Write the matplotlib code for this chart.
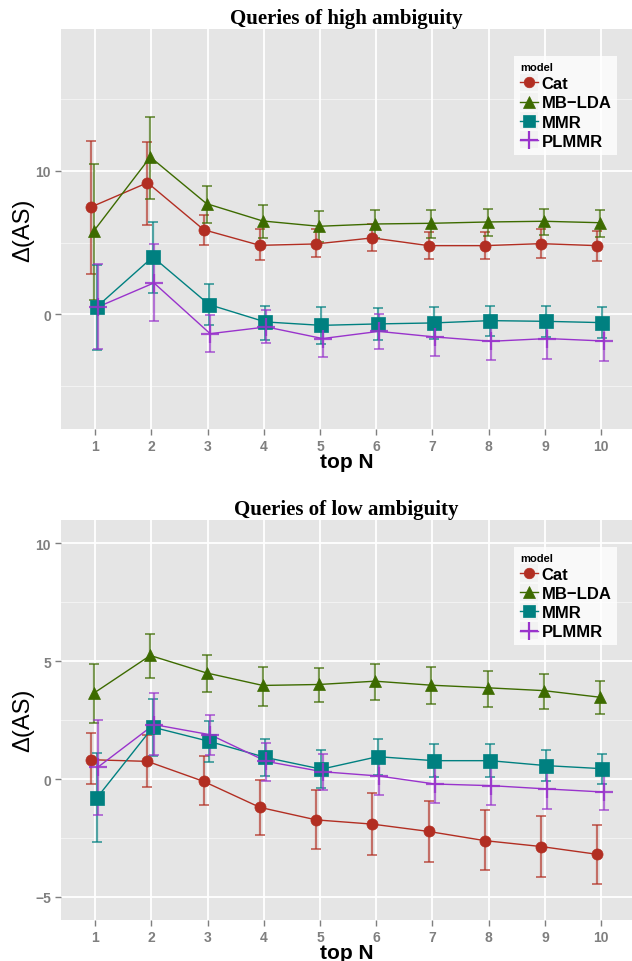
import numpy as np
import matplotlib.pyplot as plt
from matplotlib.legend_handler import HandlerLine2D
from matplotlib.patches import Rectangle

top_n = np.arange(1, 11)
models = ['Cat', 'MB\u2212LDA', 'MMR', 'PLMMR']
colors = ['#B22E22', '#3D6B00', '#008080', '#9933CC']
markers = ['o', '^', 's', '+']

# high ambiguity: value, upper, lower
high_cat = [7.49, 9.18, 5.90, 4.81, 4.91, 5.33, 4.79, 4.79, 4.93, 4.79]
high_cat_hi = [12.1, 12.0, 6.95, 5.93, 5.95, 6.32, 5.74, 5.74, 5.98, 5.81]
high_cat_lo = [2.84, 6.25, 4.81, 3.77, 4.00, 4.42, 3.84, 3.84, 3.93, 3.74]
high_lda = [5.84, 10.97, 7.72, 6.51, 6.14, 6.30, 6.35, 6.44, 6.49, 6.39]
high_lda_hi = [10.5, 13.76, 8.93, 7.60, 7.18, 7.30, 7.30, 7.35, 7.35, 7.30]
high_lda_lo = [0.98, 8.07, 6.39, 5.33, 5.05, 5.35, 5.33, 5.47, 5.50, 5.40]
high_mmr = [0.51, 4.00, 0.68, -0.53, -0.77, -0.67, -0.60, -0.44, -0.49, -0.58]
high_mmr_hi = [3.47, 6.44, 2.09, 0.56, 0.51, 0.45, 0.51, 0.58, 0.56, 0.51]
high_mmr_lo = [-2.51, 1.51, -0.72, -1.76, -2.04, -1.76, -1.69, -1.51, -1.55, -1.64]
high_pl = [0.51, 2.19, -1.35, -0.88, -1.69, -1.19, -1.58, -1.88, -1.69, -1.86]
high_pl_hi = [3.49, 4.93, -0.07, 0.28, -0.46, 0.00, -0.44, -0.72, -0.53, -0.67]
high_pl_lo = [-2.39, -0.49, -2.62, -2.00, -2.97, -2.39, -2.90, -3.20, -3.09, -3.25]

# low ambiguity
low_cat = [0.82, 0.75, -0.10, -1.20, -1.73, -1.91, -2.22, -2.61, -2.86, -3.19]
low_cat_hi = [1.95, 1.86, 0.96, -0.03, -0.45, -0.59, -0.92, -1.30, -1.56, -1.94]
low_cat_lo = [-0.21, -0.35, -1.09, -2.37, -2.97, -3.22, -3.50, -3.85, -4.14, -4.46]
low_lda = [3.65, 5.24, 4.50, 3.97, 4.01, 4.15, 3.98, 3.87, 3.75, 3.47]
low_lda_hi = [4.86, 6.13, 5.25, 4.75, 4.72, 4.89, 4.76, 4.60, 4.46, 4.15]
low_lda_lo = [2.37, 4.29, 3.68, 3.10, 3.27, 3.36, 3.19, 3.06, 2.99, 2.76]
low_mmr = [-0.81, 2.20, 1.60, 0.92, 0.42, 0.95, 0.78, 0.78, 0.57, 0.44]
low_mmr_hi = [1.10, 3.41, 2.48, 1.71, 1.25, 1.71, 1.49, 1.49, 1.25, 1.08]
low_mmr_lo = [-2.65, 0.99, 0.71, 0.11, -0.38, 0.18, 0.10, 0.10, -0.10, -0.21]
low_pl = [0.50, 2.31, 1.88, 0.75, 0.31, 0.13, -0.21, -0.28, -0.42, -0.55]
low_pl_hi = [2.52, 3.63, 2.73, 1.53, 1.06, 0.92, 0.60, 0.54, 0.40, 0.25]
low_pl_lo = [-1.52, 1.03, 1.03, -0.07, -0.45, -0.67, -1.03, -1.09, -1.26, -1.30]

dodge = [-0.07, -0.02, 0.025, 0.045]
msize = [8, 9, 9.5, 13]

plt.rcParams['font.family'] = ['Liberation Sans', 'DejaVu Sans']


class KeyHandler(HandlerLine2D):
    def create_artists(self, legend, orig_handle, xdescent, ydescent,
                       width, height, fontsize, trans):
        bg = Rectangle((-xdescent, -ydescent - 2), width, height + 4,
                       facecolor='#F2F2F2', edgecolor='none', transform=trans)
        arts = super().create_artists(legend, orig_handle, xdescent, ydescent,
                                      width, height, fontsize, trans)
        return [bg] + list(arts)


def panel(ax, title, series, ylim, major, minor):
    ax.set_facecolor('#E5E5E5')
    for y in minor:
        ax.axhline(y, color='#F2F2F2', lw=0.8, zorder=0)
    for y in major:
        ax.axhline(y, color='white', lw=1.3, zorder=0)
    for x in top_n:
        ax.axvline(x, color='white', lw=1.3, zorder=0)
    handles = []
    for i, (v, hi, lo) in enumerate(series):
        v, hi, lo = np.array(v), np.array(hi), np.array(lo)
        xs = top_n + dodge[i]
        ax.errorbar(xs, v, yerr=[v - lo, hi - v], fmt='none', ecolor=colors[i],
                    elinewidth=1.6, capsize=3.5, capthick=1.4, alpha=0.65, zorder=2)
        ax.plot(xs, v, color=colors[i], lw=1.0, zorder=3)
        ax.plot(xs, v, ls='none', marker=markers[i], ms=msize[i],
                color=colors[i], mew=1.6 if markers[i] == '+' else 0.5,
                alpha=0.85 if markers[i] == '+' else 1, zorder=4)
        handles.append(ax.plot([], [], color=colors[i], lw=1.0, marker=markers[i],
                               ms=msize[i] * 0.95, mew=1.6 if markers[i] == '+' else 0.5)[0])
    ax.set_xlim(0.4, 10.55)
    ax.set_ylim(*ylim)
    ax.set_xticks(top_n)
    ax.set_yticks(major)
    ax.set_yticklabels([str(t).replace('-', '\u2212') for t in major])
    for s in ax.spines.values():
        s.set_visible(False)
    ax.tick_params(colors='#7F7F7F', length=4, width=1, labelsize=10)
    for lab in ax.get_xticklabels() + ax.get_yticklabels():
        lab.set_fontweight('bold')
        lab.set_color('#7F7F7F')
    ax.set_title(title, family='Liberation Serif', fontweight='bold', fontsize=15, pad=4)
    ax.set_xlabel('top N', fontweight='bold', fontsize=15, labelpad=-1)
    ax.set_ylabel('\u0394(AS)', fontsize=17, labelpad=1)
    leg = ax.legend(handles, models, title='model', loc='upper right',
                    bbox_to_anchor=(0.974, 0.932), borderaxespad=0, frameon=True,
                    fancybox=False, prop={'weight': 'bold', 'size': 12},
                    handlelength=1.1, handletextpad=0.2, labelspacing=0.25,
                    borderpad=0.35, handler_map={plt.Line2D: KeyHandler()})
    leg.get_frame().set_edgecolor('none')
    leg.get_frame().set_facecolor('white')
    leg.get_title().set_fontweight('bold')
    leg.get_title().set_fontsize(8)
    leg._legend_box.align = 'left'


fig = plt.figure(figsize=(6.32, 9.62), dpi=100)
ax1 = fig.add_axes([0.0973, 0.553, 0.9027, 0.4158])
ax2 = fig.add_axes([0.0973, 0.043, 0.9027, 0.4158])

panel(ax1, 'Queries of high ambiguity',
      [(high_cat, high_cat_hi, high_cat_lo), (high_lda, high_lda_hi, high_lda_lo),
       (high_mmr, high_mmr_hi, high_mmr_lo), (high_pl, high_pl_hi, high_pl_lo)],
      (-8, 19.9), [0, 10], [-5, 5, 15])
panel(ax2, 'Queries of low ambiguity',
      [(low_cat, low_cat_hi, low_cat_lo), (low_lda, low_lda_hi, low_lda_lo),
       (low_mmr, low_mmr_hi, low_mmr_lo), (low_pl, low_pl_hi, low_pl_lo)],
      (-5.96, 11.0), [-5, 0, 5, 10], [-2.5, 2.5, 7.5])

fig.savefig('out.png', dpi=100)
